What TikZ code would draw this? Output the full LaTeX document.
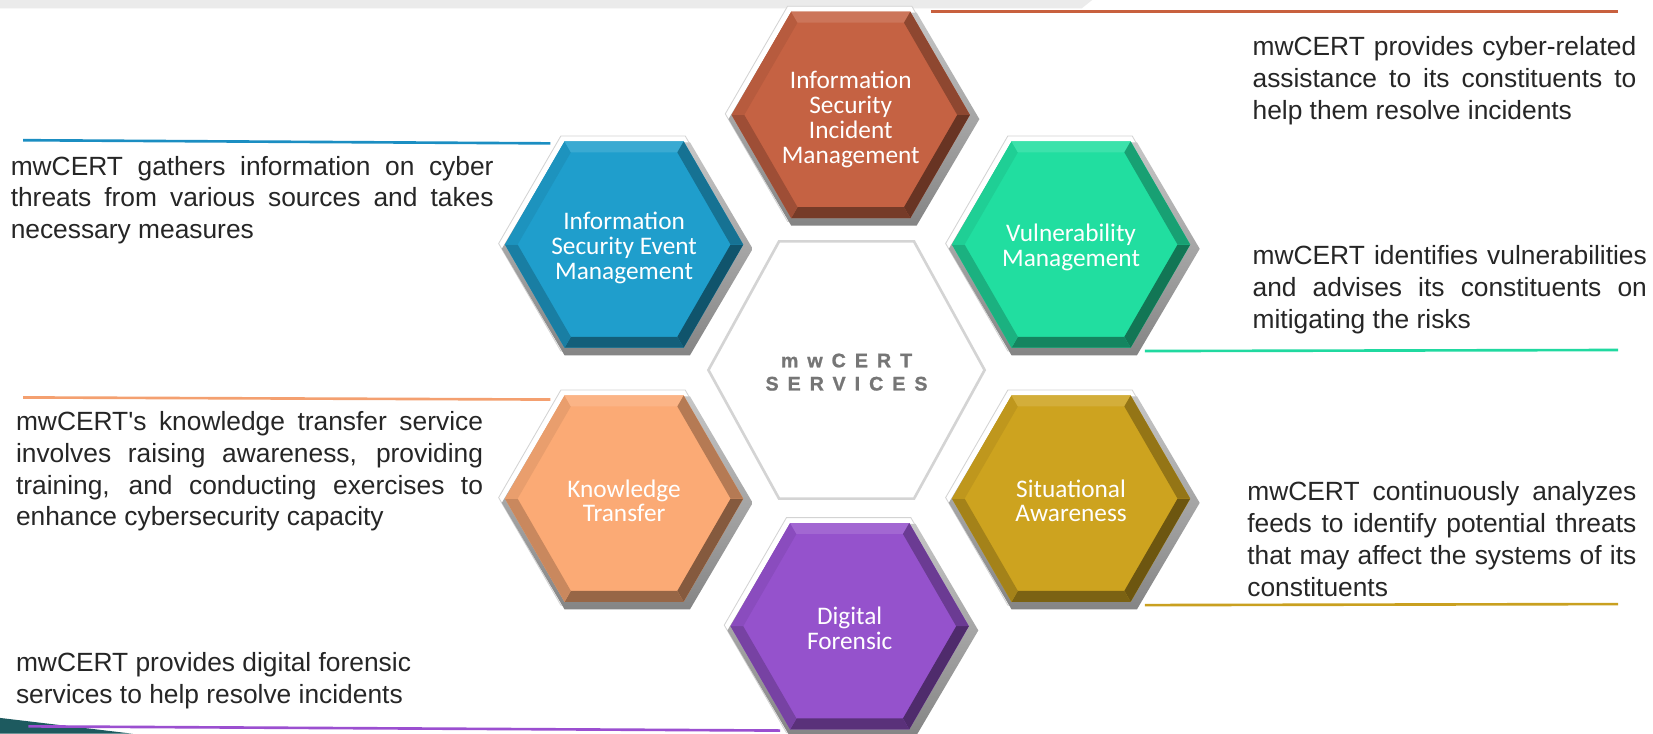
\documentclass[tikz,border=0pt]{standalone}
\usepackage{fontspec}
\setmainfont{Liberation Sans}
\newfontfamily\hexfont{Carlito}
\newfontfamily\spacedfont[LetterSpace=46,FakeBold=1.2]{Liberation Sans Bold}
\usetikzlibrary{calc}

\definecolor{bandgray}{HTML}{EBEBEB}
\definecolor{bodyc}{HTML}{262626}
\definecolor{centerc}{HTML}{767676}
\definecolor{ringc}{HTML}{D4D4D4}
\definecolor{outlinec}{HTML}{D3D3D3}
\definecolor{shadowtop}{HTML}{C6C6C6}
\definecolor{shadowbot}{HTML}{858585}
\definecolor{incidentc}{HTML}{C56243}
\definecolor{eventc}{HTML}{1F9ECC}
\definecolor{vulnc}{HTML}{21DEA0}
\definecolor{knowc}{HTML}{FBAA75}
\definecolor{situc}{HTML}{CDA31F}
\definecolor{digic}{HTML}{9552CC}
\definecolor{incline}{HTML}{C8603E}
\definecolor{evline}{HTML}{1B8EC2}
\definecolor{knline}{HTML}{F4A070}
\definecolor{vuline}{HTML}{20D9A0}
\definecolor{siline}{HTML}{C9A020}
\definecolor{diline}{HTML}{9B4FD0}
\definecolor{tealc}{HTML}{1D5A5F}

\newcommand\jl[1]{\makebox[\linewidth][s]{#1}}
\newcommand\straightquote{{\XeTeXglyph\XeTeXcharglyph"0027\relax}}

% one bevelled hexagon: #1 x, #2 y, #3 colour
\newcommand\hexcell[3]{%
  \begin{scope}[shift={(#1,#2)}]
    \filldraw[fill=white,draw=outlinec,line width=0.8pt]
      (117,-1)--(58,101)--(-60,101)--(-119,-1)--(-60,-103)--(58,-103)--cycle;
    \shade[top color=shadowtop,bottom color=shadowbot]
      (122,4)--(62.5,105)--(-56.5,105)--(-116,4)--(-56.5,-97)--(62.5,-97)--cycle;
    \fill[#3] (113,0)--(56.5,97.86)--(-56.5,97.86)--(-113,0)--(-56.5,-97.86)--(56.5,-97.86)--cycle;
    % lower-right facet
    \fill[#3!53!black] (113,0)--(56.5,97.86)--(50.5,87.47)--(101,0)--cycle;
    % bottom facet
    \fill[#3!60!black] (56.5,97.86)--(-56.5,97.86)--(-50.5,87.47)--(50.5,87.47)--cycle;
    % lower-left facet
    \fill[#3!80!black] (-56.5,97.86)--(-113,0)--(-101,0)--(-50.5,87.47)--cycle;
    % upper-left facet
    \fill[#3!93!black] (-113,0)--(-56.5,-97.86)--(-50.5,-87.47)--(-101,0)--cycle;
    % top facet
    \fill[#3!88!white] (-56.5,-97.86)--(56.5,-97.86)--(50.5,-87.47)--(-50.5,-87.47)--cycle;
    % upper-right facet
    \fill[#3!72!black] (56.5,-97.86)--(113,0)--(101,0)--(50.5,-87.47)--cycle;
  \end{scope}}

\tikzset{
  bodytext/.style={anchor=base west,inner sep=0pt,text=bodyc,
    font=\fontsize{25}{30.3}\selectfont},
  hexlabel/.style={align=center,inner sep=0pt,text=white,
    font=\hexfont\fontsize{24}{23.6}\selectfont},
  centertext/.style={align=center,inner sep=0pt,text=centerc,
    font=\spacedfont\fontsize{18.6}{22}\selectfont},
  rule/.style={line width=2.5pt},
}

\begin{document}
\begin{tikzpicture}[x=1pt,y=-1pt]
\useasboundingbox (0,0) rectangle (1568,696);
\fill[white] (0,0) rectangle (1568,696);

% top band and corner wedge
\fill[bandgray] (0,0) -- (1036,0) -- (1026,8) -- (0,8) -- cycle;
\fill[tealc] (0,681) -- (126,696) -- (0,696) -- cycle;

% rules
\coordinate (incA) at (883,11);   \coordinate (incB) at (1535,11);
\coordinate (evA) at (22,133);    \coordinate (evB) at (522,136);
\coordinate (vuA) at (1086,333);  \coordinate (vuB) at (1535,332);
\coordinate (knA) at (22,377);    \coordinate (knB) at (522,379);
\coordinate (siA) at (1086,574);  \coordinate (siB) at (1535,573);
\coordinate (diA) at (27,689);    \coordinate (diB) at (740,693);
\draw[rule,incline] (incA) -- (incB);
\draw[rule,evline] (evA) -- (evB);
\draw[rule,vuline] (vuA) -- (vuB);
\draw[rule,knline] (knA) -- (knB);
\draw[rule,siline] (siA) -- (siB);
\draw[rule,diline] (diA) -- (diB);

% centre hexagon
\draw[ringc,line width=2.5pt,fill=white]
  (934,351)--(867,473)--(739,473)--(672,351)--(739,229)--(867,229)--cycle;
\node[centertext] (services) at (803,353) {mwCERT\\SERVICES};

% service hexagons
\hexcell{807}{109}{incidentc}
\hexcell{592}{232}{eventc}
\hexcell{1016}{232}{vulnc}
\hexcell{592}{473}{knowc}
\hexcell{1016}{473}{situc}
\hexcell{806}{594}{digic}

\node[hexlabel] (incident) at (807,113) {Information\\Security\\Incident\\Management};
\node[hexlabel] (event) at (592,235) {Information\\Security Event\\Management};
\node[hexlabel] (vuln) at (1016,235) {Vulnerability\\Management};
\node[hexlabel] (know) at (592,475) {Knowledge\\Transfer};
\node[hexlabel] (situ) at (1016,475) {Situational\\Awareness};
\node[hexlabel] (digi) at (806,596) {Digital\\Forensic};

% descriptions
\node[bodytext] (incidenttext) at (1188,53) {\parbox[t]{364pt}{%
  \jl{mwCERT provides cyber-related}\\
  \jl{assistance to its constituents to}\\
  help them resolve incidents}};
\node[bodytext] (eventtext) at (10,166) {\parbox[t]{458pt}{%
  \jl{mwCERT gathers information on cyber}\\
  \jl{threats from various sources and takes}\\
  necessary measures}};
\node[bodytext] (vulntext) at (1188,251) {\parbox[t]{374pt}{%
  \jl{mwCERT identifies vulnerabilities}\\
  \jl{and advises its constituents on}\\
  mitigating the risks}};
\node[bodytext] (knowtext) at (15,408) {\parbox[t]{443pt}{%
  \jl{mwCERT\straightquote s knowledge transfer service}\\
  \jl{involves raising awareness, providing}\\
  \jl{training, and conducting exercises to}\\
  enhance cybersecurity capacity}};
\node[bodytext] (situtext) at (1183,475) {\parbox[t]{369pt}{%
  \jl{mwCERT continuously analyzes}\\
  \jl{feeds to identify potential threats}\\
  \jl{that may affect the systems of its}\\
  constituents}};
\node[bodytext] (digitext) at (15,637) {\parbox[t]{420pt}{%
  mwCERT provides digital forensic\\
  services to help resolve incidents}};
\end{tikzpicture}
\end{document}
